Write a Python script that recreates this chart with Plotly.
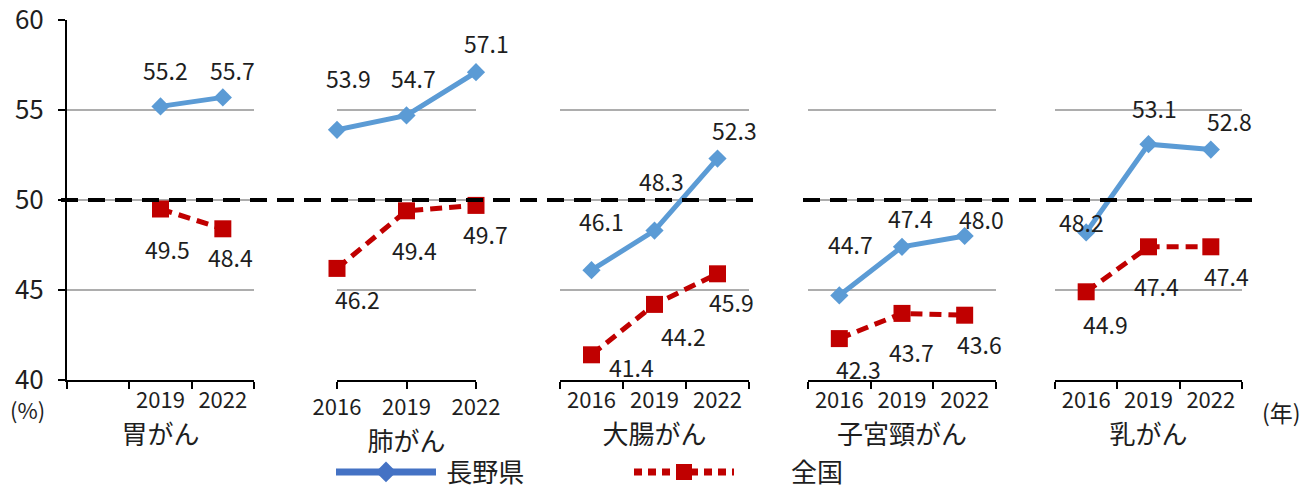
import plotly.graph_objects as go

# ---------------- data ----------------
YEARS = ["2016", "2019", "2022"]
CANCERS = ["胃がん", "肺がん", "大腸がん", "子宮頸がん", "乳がん"]
SERIES = ["長野県", "全国"]
NAGANO = [
    [None, 55.2, 55.7],
    [53.9, 54.7, 57.1],
    [46.1, 48.3, 52.3],
    [44.7, 47.4, 48.0],
    [48.2, 53.1, 52.8],
]
NATIONAL = [
    [None, 49.5, 48.4],
    [46.2, 49.4, 49.7],
    [41.4, 44.2, 45.9],
    [42.3, 43.7, 43.6],
    [44.9, 47.4, 47.4],
]
YEAR_LABELS = [["", "2019", "2022"], YEARS, YEARS, YEARS, YEARS]
Y_TICKS = [40, 45, 50, 55, 60]
TARGET = 50

# ---------------- layout / style ----------------
W, H = 1306, 488
FONT = "Noto Sans CJK JP"
TXT = "#1e1e1e"
BLUE = "#5B9BD5"
BLUE_LEG = "#4472C4"
RED = "#C00000"
GRID = "#ADADAD"

PANELS_PX = [(67, 254), (337, 476), (560, 749), (808, 996), (1055, 1242)]
YDOM = [1 - 380 / H, 1 - 20 / H]

# label offsets (dx, dy) in px; dy positive = downward
NAGANO_OFF = [
    [None, (5, -36), (10, -27)],
    [(11, -52), (7, -37), (10, -29)],
    [(10, -49), (7, -50), (17, -29)],
    [(11, -51), (8, -29), (17, -17)],
    [(-5, -10), (6, -36), (19, -29)],
]
NATIONAL_OFF = [
    [None, (7, 40), (8, 28)],
    [(20, 31), (8, 39), (9, 29)],
    [(40, 12), (29, 32), (14, 28)],
    [(19, 30), (9, 39), (15, 29)],
    [(19, 32), (8, 39), (16, 29)],
]

fig = go.Figure()
layout = {}
annotations = []

for i in range(5):
    xa = "x" if i == 0 else f"x{i+1}"
    ya = "y" if i == 0 else f"y{i+1}"
    on_ticks = (i == 1)
    fig.add_trace(go.Scatter(
        x=YEARS, y=NAGANO[i], xaxis=xa, yaxis=ya, mode="lines+markers",
        line=dict(color=BLUE, width=5),
        marker=dict(symbol="diamond", size=14, color=BLUE),
        showlegend=False, cliponaxis=False, hoverinfo="skip"))
    fig.add_trace(go.Scatter(
        x=YEARS, y=NATIONAL[i], xaxis=xa, yaxis=ya, mode="lines+markers",
        line=dict(color=RED, width=5, dash="12px,7px"),
        marker=dict(symbol="square", size=17, color=RED),
        showlegend=False, cliponaxis=False, hoverinfo="skip"))

    x0, x1 = PANELS_PX[i]
    xkey = "xaxis" if i == 0 else f"xaxis{i+1}"
    ykey = "yaxis" if i == 0 else f"yaxis{i+1}"
    layout[xkey] = dict(
        domain=[x0 / W, x1 / W], anchor=ya, type="category",
        categoryorder="array", categoryarray=YEARS,
        range=[0, 2] if on_ticks else [-0.5, 2.5],
        tickson="labels" if on_ticks else "boundaries",
        tickmode="array", tickvals=YEARS, ticktext=YEAR_LABELS[i],
        ticks="outside", ticklen=7, tickwidth=2, tickcolor="black",
        ticklabelstandoff=0,
        showline=True, linecolor="black", linewidth=2,
        showgrid=False, zeroline=False,
        tickfont=dict(size=22, color=TXT, family=FONT),
        title=dict(text=CANCERS[i], font=dict(size=26, color=TXT, family=FONT), standoff=9),
        automargin=False, fixedrange=True)
    layout[ykey] = dict(
        domain=YDOM, anchor=xa, range=[40, 60.0001],
        tickmode="array", tickvals=Y_TICKS,
        showgrid=True, gridcolor=GRID, gridwidth=1.5, zeroline=False,
        showticklabels=(i == 0), showline=(i == 0),
        linecolor="black", linewidth=2,
        ticks="outside" if i == 0 else "", ticklen=7, tickwidth=2, tickcolor="black",
        ticklabelstandoff=9, ticklabeloverflow="allow",
        tickfont=dict(size=26, color=TXT, family=FONT),
        automargin=False, fixedrange=True)

    for series, offs in ((NAGANO[i], NAGANO_OFF[i]), (NATIONAL[i], NATIONAL_OFF[i])):
        for j, v in enumerate(series):
            if v is None:
                continue
            dx, dy = offs[j]
            annotations.append(dict(
                x=j, y=v, xref=xa, yref=ya, text=f"{v:.1f}",
                showarrow=False, xshift=dx, yshift=-dy,
                xanchor="center", yanchor="middle",
                font=dict(size=23, color=TXT, family=FONT)))

# unit labels
annotations.append(dict(x=27 / W, y=1 - 409 / H, xref="paper", yref="paper", text="(%)",
                        xanchor="center", yanchor="middle",
                        showarrow=False, font=dict(size=22, color=TXT, family=FONT)))
annotations.append(dict(x=1281 / W, y=1 - 412 / H, xref="paper", yref="paper", text="(年)",
                        xanchor="center", yanchor="middle",
                        showarrow=False, font=dict(size=23, color=TXT, family=FONT)))

# 50% reference line (two segments)
shapes = []
for sx0, sx1 in ((61, 757), (803, 1260)):
    shapes.append(dict(type="line", xref="paper", yref="y", x0=sx0 / W, x1=sx1 / W,
                       y0=TARGET, y1=TARGET, layer="above",
                       line=dict(color="black", width=4, dash="17px,10px")))

# legend-only traces
fig.add_trace(go.Scatter(x=[None], y=[None], name="\u2009" + SERIES[0], mode="lines+markers",
                         line=dict(color=BLUE_LEG, width=7),
                         marker=dict(symbol="diamond", size=18, color=BLUE_LEG)))
fig.add_trace(go.Scatter(x=[None], y=[None], name="\u3000\u3000" + SERIES[1], mode="lines+markers",
                         line=dict(color=RED, width=7, dash="8px,6px"),
                         marker=dict(symbol="square", size=22, color=RED)))

fig.update_layout(
    width=W, height=H,
    margin=dict(l=0, r=0, t=0, b=0, autoexpand=False),
    paper_bgcolor="white", plot_bgcolor="white",
    font=dict(family=FONT, color=TXT),
    annotations=annotations, shapes=shapes,
    showlegend=True,
    legend=dict(orientation="h", x=331 / W, y=1 - 472 / H, xanchor="left", yanchor="middle",
                itemwidth=100, entrywidth=183, font=dict(size=26, color=TXT, family=FONT),
                bgcolor="rgba(0,0,0,0)"),
    **layout)

fig.write_html("out.html", config={"displayModeBar": False},
               post_script="document.body.style.margin='0';document.body.style.overflow='hidden';")
